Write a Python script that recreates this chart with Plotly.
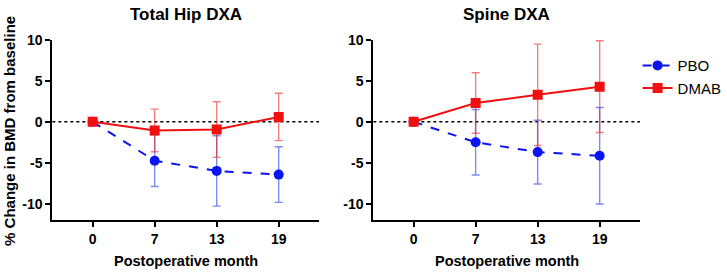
import plotly.graph_objects as go

months = ["0", "7", "13", "19"]

hip_pbo = [0, -4.75, -6.0, -6.45]
hip_pbo_err = [0, 3.15, 4.3, 3.4]
hip_dmab = [0, -1.05, -0.95, 0.6]
hip_dmab_err = [0, 2.6, 3.4, 2.9]

spine_pbo = [0, -2.5, -3.7, -4.15]
spine_pbo_err = [0, 4.0, 3.9, 5.9]
spine_dmab = [0, 2.3, 3.3, 4.3]
spine_dmab_err = [0, 3.7, 6.2, 5.6]

panel_titles = ["Total Hip DXA", "Spine DXA"]
ytick_vals = [-10, -5, 0, 5, 10]
ytick_text = ["-10", "-5", "0", "5", "10"]

BLUE = "#0a14f0"
RED = "#f01010"
FONT = "Liberation Sans"

fig = go.Figure()

panels = [
    ("x", "y", hip_pbo, hip_pbo_err, hip_dmab, hip_dmab_err, True),
    ("x2", "y2", spine_pbo, spine_pbo_err, spine_dmab, spine_dmab_err, False),
]

for xa, ya, pbo, pbo_e, dmab, dmab_e, first in panels:
    fig.add_trace(go.Scatter(
        x=months, y=pbo, xaxis=xa, yaxis=ya, name="PBO",
        mode="lines+markers", showlegend=not first,
        line=dict(color=BLUE, width=2, dash="dash"),
        marker=dict(symbol="circle", size=10, color=BLUE),
        error_y=dict(type="data", array=pbo_e, color="rgba(40,60,235,0.6)",
                     thickness=1.4, width=4),
    ))
    fig.add_trace(go.Scatter(
        x=months, y=dmab, xaxis=xa, yaxis=ya, name="DMAB",
        mode="lines+markers", showlegend=not first,
        line=dict(color=RED, width=2),
        marker=dict(symbol="square", size=10, color=RED),
        error_y=dict(type="data", array=dmab_e, color="rgba(235,40,40,0.6)",
                     thickness=1.4, width=4),
    ))

W, H = 727, 273
dom1 = [53 / W, 323 / W]
dom2 = [378 / W, 648 / W]
ydom = [(H - 220) / H, (H - 40) / H]

tickfont = dict(family=FONT, size=14, color="black")
xcommon = dict(type="category", range=[-0.65, 3.65], showline=True, linecolor="black",
               linewidth=2, ticks="outside", ticklen=5, tickwidth=1.5, tickcolor="black",
               showgrid=False, zeroline=False,
               tickvals=months, ticktext=["<b>%s</b>" % m for m in months],
               tickfont=tickfont, automargin=False)
ycommon = dict(range=[-12, 10], showline=True, linecolor="black", linewidth=2,
               ticks="outside", ticklen=5, tickwidth=1.5, tickcolor="black",
               tickvals=ytick_vals, ticktext=["<b>%s</b>" % t for t in ytick_text],
               showgrid=False, zeroline=False, domain=ydom,
               tickfont=tickfont, automargin=False)

fig.update_layout(
    width=W, height=H,
    margin=dict(l=0, r=0, t=0, b=0),
    paper_bgcolor="white", plot_bgcolor="white",
    xaxis=dict(domain=dom1, anchor="y", **xcommon),
    yaxis=dict(anchor="x", **ycommon),
    xaxis2=dict(domain=dom2, anchor="y2", **xcommon),
    yaxis2=dict(anchor="x2", **ycommon),
    legend=dict(x=0.888, y=0.82, xanchor="left", yanchor="top",
                font=dict(family=FONT, size=15, color="black"),
                bgcolor="rgba(0,0,0,0)", tracegroupgap=4, itemwidth=30),
    font=dict(family=FONT),
)

for xr in ["x domain", "x2 domain"]:
    yr = "y" if xr.startswith("x ") else "y2"
    fig.add_shape(type="line", xref=xr, yref=yr, x0=0, x1=1, y0=0, y1=0,
                  line=dict(color="black", width=1.5, dash="dot"), layer="below")

for dom, title in zip([dom1, dom2], panel_titles):
    cx = (dom[0] + dom[1]) / 2
    fig.add_annotation(x=cx, y=(H - 14) / H, xref="paper", yref="paper",
                       xanchor="center", yanchor="middle",
                       text="<b>%s</b>" % title, showarrow=False,
                       font=dict(family=FONT, size=17, color="black"))
    fig.add_annotation(x=cx, y=(H - 261) / H, xref="paper", yref="paper",
                       xanchor="center", yanchor="middle",
                       text="<b>Postoperative month</b>", showarrow=False,
                       font=dict(family=FONT, size=14.5, color="black"))

fig.add_annotation(x=9 / W, y=(H - 131) / H, xref="paper", yref="paper",
                   xanchor="center", yanchor="middle",
                   text="<b>% Change in BMD from baseline</b>", showarrow=False, textangle=-90,
                   font=dict(family=FONT, size=15, color="black"))

fig.write_html("out.html")
